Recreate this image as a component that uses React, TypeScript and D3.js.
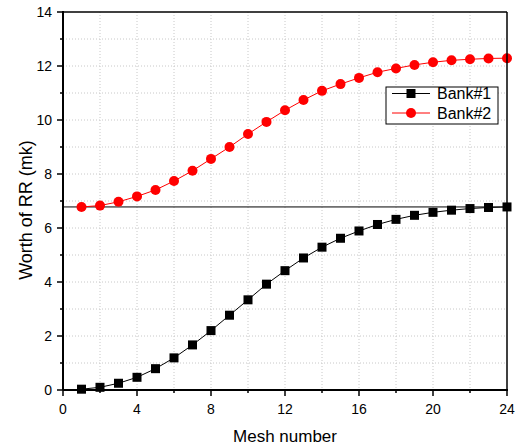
import React from "react";
import * as d3 from "d3";

const meshNumbers = [1,2,3,4,5,6,7,8,9,10,11,12,13,14,15,16,17,18,19,20,21,22,23,24];
const bank1 = [0.03,0.1,0.25,0.47,0.79,1.19,1.67,2.2,2.77,3.34,3.92,4.42,4.89,5.29,5.62,5.89,6.13,6.32,6.47,6.58,6.66,6.72,6.76,6.78];
const bank2 = [6.78,6.83,6.97,7.17,7.41,7.74,8.12,8.56,9.0,9.48,9.93,10.36,10.74,11.08,11.33,11.56,11.77,11.91,12.04,12.14,12.21,12.25,12.28,12.29];
const refLine = 6.78;
const xTicks = [0,4,8,12,16,20,24];
const yTicks = [0,2,4,6,8,10,12,14];
const seriesNames = ["Bank#1", "Bank#2"];

const W = 515, H = 448;
const L = 63, R = 507, T = 12, B = 390;
const FONT = "Arial, 'Liberation Sans', sans-serif";

export default function App() {
  const x = d3.scaleLinear().domain([0, 24]).range([L, R]);
  const y = d3.scaleLinear().domain([0, 14]).range([B, T]);
  const line = d3.line<number>().x((_, i) => x(meshNumbers[i])).y(d => y(d));
  const xMinor = d3.range(0, 25, 2);
  const yMinor = d3.range(0, 15, 1);

  return (
    <svg width={W} height={H} style={{ position: "absolute", left: 0, top: 0, background: "#fff" }}>
      <rect x={0} y={0} width={W} height={H} fill="#fff" />
      {/* grid */}
      {xMinor.filter(v => v > 0 && v < 24).map(v => (
        <line key={"gx" + v} x1={x(v)} x2={x(v)} y1={T} y2={B} stroke="#c8c8c8" strokeWidth={1} strokeDasharray="1,2" />
      ))}
      {yMinor.filter(v => v > 0 && v < 14).map(v => (
        <line key={"gy" + v} x1={L} x2={R} y1={y(v)} y2={y(v)} stroke="#c8c8c8" strokeWidth={1} strokeDasharray="1,2" />
      ))}
      {/* reference line */}
      <line x1={L} x2={R} y1={y(refLine)} y2={y(refLine)} stroke="#000" strokeWidth={1} />
      {/* series */}
      <path d={line(bank1) || ""} fill="none" stroke="#000" strokeWidth={1} />
      <path d={line(bank2) || ""} fill="none" stroke="#ff0000" strokeWidth={1} />
      {bank1.map((v, i) => (
        <rect key={"b1" + i} x={x(meshNumbers[i]) - 4.5} y={y(v) - 4.5} width={9} height={9} fill="#000" />
      ))}
      {bank2.map((v, i) => (
        <circle key={"b2" + i} cx={x(meshNumbers[i])} cy={y(v)} r={5} fill="#ff0000" />
      ))}
      {/* frame */}
      <line x1={L} x2={R} y1={T} y2={T} stroke="#000" strokeWidth={1.5} />
      <line x1={R} x2={R} y1={T} y2={B} stroke="#000" strokeWidth={1.5} />
      <line x1={L} x2={R + 1} y1={B} y2={B} stroke="#000" strokeWidth={2} />
      <line x1={L} x2={L} y1={T - 1} y2={B} stroke="#000" strokeWidth={2} />
      {/* x ticks */}
      {xMinor.map(v => (
        <line key={"xt" + v} x1={x(v)} x2={x(v)} y1={B} y2={B + (v % 4 === 0 ? 6 : 3)} stroke="#000" strokeWidth={1.5} />
      ))}
      {xTicks.map(v => (
        <text key={"xl" + v} x={x(v)} y={414} textAnchor="middle" fontFamily={FONT} fontSize={14} fill="#000">{v}</text>
      ))}
      {/* y ticks */}
      {yMinor.map(v => (
        <line key={"yt" + v} x1={L - (v % 2 === 0 ? 6 : 3)} x2={L} y1={y(v)} y2={y(v)} stroke="#000" strokeWidth={1.5} />
      ))}
      {yTicks.map(v => (
        <text key={"yl" + v} x={52} y={y(v) + 5} textAnchor="end" fontFamily={FONT} fontSize={14} fill="#000">{v}</text>
      ))}
      {/* axis titles */}
      <text x={285} y={442} textAnchor="middle" fontFamily={FONT} fontSize={17} fill="#000">Mesh number</text>
      <text transform={`translate(32,210) rotate(-90)`} textAnchor="middle" fontFamily={FONT} fontSize={18} fill="#000">Worth of RR (mk)</text>
      {/* legend */}
      <rect x={386} y={87} width={112} height={37} fill="#fff" stroke="#000" strokeWidth={1} />
      <line x1={392} x2={430} y1={93.5} y2={93.5} stroke="#000" strokeWidth={1} />
      <rect x={406.5} y={89} width={9} height={9} fill="#000" />
      <text x={437} y={99} fontFamily={FONT} fontSize={16} fill="#000">{seriesNames[0]}</text>
      <line x1={392} x2={430} y1={113} y2={113} stroke="#ff0000" strokeWidth={1} />
      <circle cx={411} cy={113} r={5} fill="#ff0000" />
      <text x={437} y={118.5} fontFamily={FONT} fontSize={16} fill="#000">{seriesNames[1]}</text>
    </svg>
  );
}
